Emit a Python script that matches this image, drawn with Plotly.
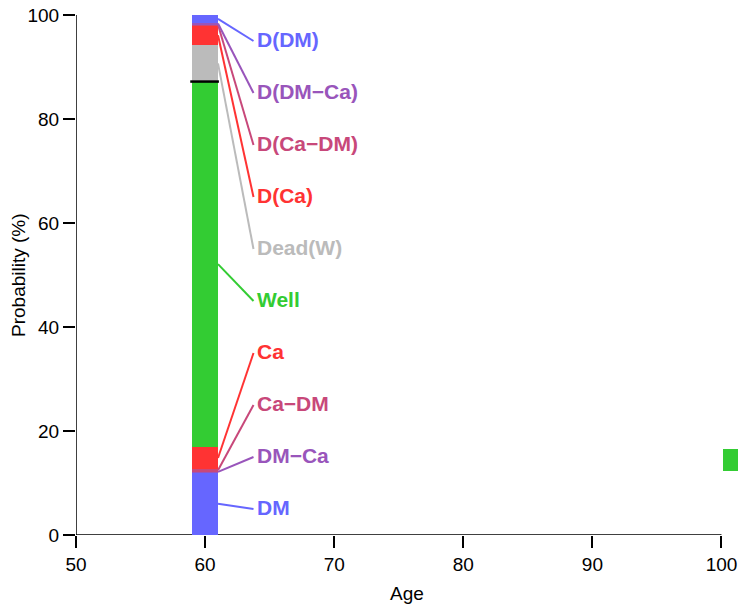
import plotly.graph_objects as go

# Stacked state probabilities at age 60 (bottom to top)
states = ["DM", "DM\u2212Ca", "Ca\u2212DM", "Ca", "Well",
          "Dead(W)", "D(Ca)", "D(Ca\u2212DM)", "D(DM\u2212Ca)", "D(DM)"]
probs = [12.0, 0.3, 0.3, 4.4, 70.2, 7.0, 3.8, 0.25, 0.25, 1.5]
colors = ["#6666FF", "#9955BB", "#C8487A", "#FF3333", "#33CC33",
          "#BBBBBB", "#FF3333", "#C8487A", "#9955BB", "#6666FF"]
label_y = [5, 15, 25, 35, 45, 55, 65, 75, 85, 95]

bar_age = 60
bar_width = 2.0
alive_total = 87.2   # boundary between living and dead states

# Extra block at the right edge
extra_age = 101.1
extra_base = 12.4
extra_height = 4.1

x_ticks = [50, 60, 70, 80, 90, 100]
y_ticks = [0, 20, 40, 60, 80, 100]

FONT = "Liberation Sans, Arial, Helvetica, sans-serif"

fig = go.Figure()

base = 0.0
mids = []
for name, p, c in zip(states, probs, colors):
    fig.add_trace(go.Bar(
        x=[bar_age], y=[p], base=[base], width=[bar_width],
        marker=dict(color=c, line=dict(width=0)),
        showlegend=False, hoverinfo="skip", name=name,
    ))
    mids.append(base + p / 2)
    base += p

fig.add_trace(go.Bar(
    x=[extra_age], y=[extra_height], base=[extra_base], width=[bar_width],
    marker=dict(color="#33CC33", line=dict(width=0)),
    showlegend=False, hoverinfo="skip",
))

# black line separating alive from dead
fig.add_trace(go.Scatter(
    x=[bar_age - bar_width / 2 - 0.15, bar_age + bar_width / 2 + 0.07],
    y=[alive_total, alive_total], mode="lines",
    line=dict(color="black", width=2.5), showlegend=False, hoverinfo="skip",
))

# leader lines and labels
x_start = bar_age + bar_width / 2
x_end = 63.75
for name, c, m, ly in zip(states, colors, mids, label_y):
    fig.add_trace(go.Scatter(
        x=[x_start, x_end], y=[m, ly], mode="lines",
        line=dict(color=c, width=2), showlegend=False, hoverinfo="skip",
    ))
    fig.add_annotation(
        x=63.9, y=ly, text="<b>" + name + "</b>", showarrow=False,
        xanchor="left", yanchor="middle", xref="x", yref="y", yshift=2,
        font=dict(family=FONT, size=21, color=c),
    )

# y-axis title
fig.add_annotation(
    x=0, y=0.5, xref="paper", yref="paper", xshift=-58,
    text="Probability (%)", textangle=-90, showarrow=False,
    xanchor="center", yanchor="middle",
    font=dict(family=FONT, size=19, color="black"),
)

# axis lines spanning only the tick range
fig.add_shape(type="line", xref="x", yref="y", x0=50, x1=50, y0=0, y1=100,
              line=dict(color="black", width=1.5), layer="below")
fig.add_shape(type="line", xref="x", yref="y", x0=50, x1=100, y0=0, y1=0,
              line=dict(color="black", width=1.5), layer="below")

fig.update_layout(
    width=738, height=606,
    margin=dict(l=76, r=0, t=15, b=71),
    plot_bgcolor="white", paper_bgcolor="white",
    barmode="overlay", bargap=0,
    font=dict(family=FONT, size=19, color="black"),
    xaxis=dict(
        range=[50, 101.28], tickvals=x_ticks, ticks="outside", ticklen=12,
        tickwidth=1.5, tickcolor="black", showline=False, showgrid=False,
        zeroline=False, title=dict(text="Age", font=dict(size=19), standoff=12),
        tickfont=dict(size=19),
    ),
    yaxis=dict(
        range=[0, 100], tickvals=y_ticks, ticks="outside", ticklen=12,
        tickwidth=1.5, tickcolor="black", showline=False, showgrid=False,
        zeroline=False, tickfont=dict(size=19),
    ),
)

fig.write_html("out.html")
